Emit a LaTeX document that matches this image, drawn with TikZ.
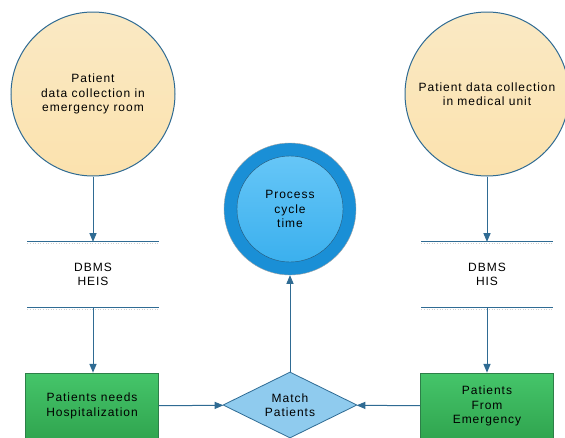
\documentclass[tikz,border=0pt]{standalone}
\usepackage{fontspec}
\setmainfont{Liberation Sans}[LetterSpace=8]
\usepackage{tikz}
\usetikzlibrary{arrows,positioning,calc,shapes.geometric}
\definecolor{edgeblue}{HTML}{2F6B93}
\definecolor{sandtop}{HTML}{FAE9C4}
\definecolor{sandbot}{HTML}{FBE2AE}
\definecolor{leaftop}{HTML}{45C56A}
\definecolor{leafbot}{HTML}{30A54F}
\definecolor{leafedge}{HTML}{2D7F48}
\definecolor{skyouter}{HTML}{1A8FD6}
\definecolor{skyinnertop}{HTML}{66C6F7}
\definecolor{skyinnerbot}{HTML}{3BB0EE}
\definecolor{diamondfill}{HTML}{8FCBEE}
\tikzstyle{source}=[draw=edgeblue,line width=1pt,circle,minimum size=164pt,inner sep=0pt,align=center,top color=sandtop,bottom color=sandbot]
\tikzstyle{store}=[minimum width=131pt,minimum height=65pt,inner sep=0pt,align=center]
\tikzstyle{task}=[draw=leafedge,line width=0.8pt,rectangle,minimum width=133pt,minimum height=66pt,align=center,top color=leaftop,bottom color=leafbot]
\tikzstyle{decision}=[draw=edgeblue,line width=0.8pt,diamond,aspect=2,minimum width=134pt,minimum height=66pt,inner sep=0pt,align=center,fill=diamondfill]
\tikzstyle{flow}=[draw=edgeblue,line width=1pt,-triangle 45]
\tikzstyle{storeline}=[draw=edgeblue,line width=1pt]
\tikzstyle{storeshadow}=[draw=black!18,line width=0.6pt,dotted]

\begin{document}
\begin{tikzpicture}[x=1pt,y=-1pt,every node/.style={font=\fontsize{12}{14.5}\selectfont}]
\useasboundingbox (0,0) rectangle (565,437);
\node [source] (emroom) at (93,94) {Patient\\data collection in\\emergency room};
\node [source] (medunit) at (487,94) {Patient data collection\\in medical unit};
\node [store] (heis) at (93,274.5) {DBMS\\HEIS};
\node [store] (his) at (487,274.5) {DBMS\\HIS};
\node [task] (needs) at (92,406) {Patients needs\\Hospitalization};
\node [task] (fromem) at (487,406) {Patients\\From\\Emergency};
\node [decision] (match) at (290,405) {Match\\Patients};
\node [circle,draw=black!35,fill=skyouter,minimum size=132pt,inner sep=0pt] (cycleouter) at (290,209) {};
\node [circle,draw=edgeblue!80!black,top color=skyinnertop,bottom color=skyinnerbot,minimum size=106pt,inner sep=0pt,align=center] (cycle) at (290,209) {Process\\cycle\\time};
\foreach \s in {heis,his}{
	\draw [storeshadow] ($(\s.north west)+(0,1.8)$) -- ($(\s.north east)+(0,1.8)$);
	\draw [storeline] (\s.north west) -- (\s.north east);
	\draw [storeshadow] ($(\s.south west)+(0,1.8)$) -- ($(\s.south east)+(0,1.8)$);
	\draw [storeline] (\s.south west) -- (\s.south east);
}
\draw [flow] (emroom) -- (heis.north);
\draw [flow] (heis.south) -- (heis.south |- needs.north);
\draw [flow] (medunit) -- (his.north);
\draw [flow] (his.south) -- (fromem);
\draw [flow] (needs) -- (match);
\draw [flow] (fromem) -- (match);
\draw [flow] (match) -- (cycleouter);
\end{tikzpicture}
\end{document}
